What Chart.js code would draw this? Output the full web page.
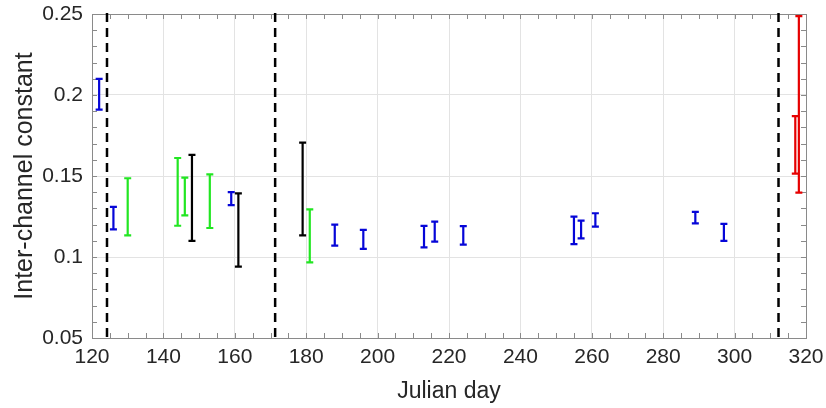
<!DOCTYPE html>
<html>
<head>
<meta charset="utf-8">
<script src="https://cdn.jsdelivr.net/npm/chart.js@4/dist/chart.umd.min.js"></script>
<style>
  html, body { margin: 0; padding: 0; background: #ffffff; }
  #wrap { width: 826px; height: 408px; position: relative; }
</style>
</head>
<body>
<div id="wrap"><canvas id="c" width="826" height="408"></canvas></div>
<script>
// Inter-channel constant estimates (lower / upper bound) by Julian day
const blueDays  = [122, 126, 159, 188, 196, 213, 216, 224, 255, 257, 261, 289, 297];
const blueLow   = [0.191, 0.117, 0.132, 0.107, 0.105, 0.106, 0.1095, 0.1076, 0.108, 0.1115, 0.1187, 0.1208, 0.110];
const blueHigh  = [0.210, 0.131, 0.140, 0.120, 0.1167, 0.1192, 0.1218, 0.1191, 0.1249, 0.1224, 0.127, 0.1278, 0.1204];

const greenDays = [130, 144, 146, 153, 181];
const greenLow  = [0.1134, 0.1193, 0.1257, 0.1179, 0.0967];
const greenHigh = [0.1486, 0.1611, 0.149, 0.151, 0.1294];

const blackDays = [148, 161, 179];
const blackLow  = [0.110, 0.094, 0.1134];
const blackHigh = [0.1631, 0.1393, 0.1706];

const redDays   = [317, 318];
const redLow    = [0.1515, 0.1397];
const redHigh   = [0.1869, 0.2487];

// Period boundaries (dashed vertical lines)
const boundaryDays = [124.2, 171.3, 312.3];

// Axis ticks
const xTicks = [120, 140, 160, 180, 200, 220, 240, 260, 280, 300, 320];
const xTickLabels = ['120', '140', '160', '180', '200', '220', '240', '260', '280', '300', '320'];
const yTicks = [0.05, 0.1, 0.15, 0.2, 0.25];
const yTickLabels = ['0.05', '0.1', '0.15', '0.2', '0.25'];
const xMinorStep = 5;
const yMinorStep = 0.01;

function makeSeries(days, low, high, color) {
  return {
    data: days.map((d, i) => ({ x: d, y: (low[i] + high[i]) / 2 })),
    low: low,
    high: high,
    errColor: color,
    pointRadius: 0,
    pointHoverRadius: 0,
    showLine: false
  };
}

const TEXT = '#262626';
const FRAME = '#8a8a8a';
const FONT = 'Liberation Sans, Arial, sans-serif';

const errorBarPlugin = {
  id: 'errorBars',
  afterDatasetsDraw(chart) {
    const ctx = chart.ctx;
    const xs = chart.scales.x, ys = chart.scales.y;
    ctx.save();
    chart.data.datasets.forEach(ds => {
      ctx.strokeStyle = ds.errColor;
      ctx.lineWidth = 2.2;
      ds.data.forEach((p, i) => {
        const px = xs.getPixelForValue(p.x);
        const yl = ys.getPixelForValue(ds.low[i]);
        const yh = ys.getPixelForValue(ds.high[i]);
        const cap = 3.5;
        ctx.beginPath();
        ctx.moveTo(px, yl); ctx.lineTo(px, yh);
        ctx.moveTo(px - cap, yl); ctx.lineTo(px + cap, yl);
        ctx.moveTo(px - cap, yh); ctx.lineTo(px + cap, yh);
        ctx.stroke();
      });
    });
    ctx.restore();
  }
};

const framePlugin = {
  id: 'frame',
  beforeDatasetsDraw(chart) {
    const ctx = chart.ctx;
    const a = chart.chartArea;
    const xs = chart.scales.x, ys = chart.scales.y;
    ctx.save();
    // box
    ctx.strokeStyle = FRAME;
    ctx.lineWidth = 1;
    ctx.strokeRect(Math.round(a.left) + 0.5, Math.round(a.top) + 0.5,
                   Math.round(a.right - a.left), Math.round(a.bottom - a.top));
    // inward ticks on all four sides
    ctx.beginPath();
    const tl = 5;
    for (let v = xs.min; v <= xs.max + 1e-9; v += xMinorStep) {
      const px = Math.round(xs.getPixelForValue(v)) + 0.5;
      ctx.moveTo(px, a.bottom); ctx.lineTo(px, a.bottom - tl);
      ctx.moveTo(px, a.top); ctx.lineTo(px, a.top + tl);
    }
    for (let v = ys.min; v <= ys.max + 1e-9; v += yMinorStep) {
      const py = Math.round(ys.getPixelForValue(v)) + 0.5;
      ctx.moveTo(a.left, py); ctx.lineTo(a.left + tl, py);
      ctx.moveTo(a.right, py); ctx.lineTo(a.right - tl, py);
    }
    ctx.stroke();
    ctx.restore();
  },
  afterDatasetsDraw(chart) {
    const ctx = chart.ctx;
    const a = chart.chartArea;
    const xs = chart.scales.x;
    ctx.save();
    ctx.strokeStyle = '#000000';
    ctx.lineWidth = 2.5;
    ctx.setLineDash([9, 6]);
    boundaryDays.forEach(d => {
      const px = xs.getPixelForValue(d);
      ctx.beginPath();
      ctx.moveTo(px, a.top - 1);
      ctx.lineTo(px, a.bottom + 5);
      ctx.stroke();
    });
    ctx.restore();
  }
};

new Chart(document.getElementById('c'), {
  type: 'scatter',
  data: {
    datasets: [
      makeSeries(blueDays, blueLow, blueHigh, '#0606d8'),
      makeSeries(greenDays, greenLow, greenHigh, '#22e622'),
      makeSeries(blackDays, blackLow, blackHigh, '#000000'),
      makeSeries(redDays, redLow, redHigh, '#e60000')
    ]
  },
  options: {
    responsive: false,
    animation: false,
    devicePixelRatio: 1,
    layout: { padding: { left: 0, right: 20, top: 14, bottom: 0 } },
    plugins: { legend: { display: false }, tooltip: { enabled: false } },
    scales: {
      x: {
        type: 'linear',
        min: 120, max: 320,
        afterBuildTicks: s => { s.ticks = xTicks.map(v => ({ value: v })); },
        afterFit: s => { s.height = 70; s.paddingLeft = 0; s.paddingRight = 0; },
        ticks: {
          color: TEXT,
          font: { family: FONT, size: 21 },
          padding: 7,
          maxRotation: 0,
          autoSkip: false,
          callback: (v) => xTickLabels[xTicks.indexOf(v)]
        },
        grid: { color: '#e3e3e3', lineWidth: 1, drawTicks: false },
        border: { display: false },
        title: {
          display: true, text: 'Julian day', color: TEXT,
          font: { family: FONT, size: 23 },
          padding: { top: 0, bottom: 3 }
        }
      },
      y: {
        type: 'linear',
        min: 0.05, max: 0.25,
        afterBuildTicks: s => { s.ticks = yTicks.map(v => ({ value: v })); },
        afterFit: s => { s.width = 92; s.paddingTop = 0; s.paddingBottom = 0; },
        ticks: {
          color: TEXT,
          font: { family: FONT, size: 21 },
          padding: 9,
          autoSkip: false,
          callback: (v) => yTickLabels[yTicks.findIndex(t => Math.abs(t - v) < 1e-9)]
        },
        grid: { color: '#e3e3e3', lineWidth: 1, drawTicks: false },
        border: { display: false },
        title: {
          display: true, text: 'Inter-channel constant', color: TEXT,
          font: { family: FONT, size: 25 },
          padding: { top: 10, bottom: 0 }
        }
      }
    }
  },
  plugins: [framePlugin, errorBarPlugin]
});
</script>
</body>
</html>
